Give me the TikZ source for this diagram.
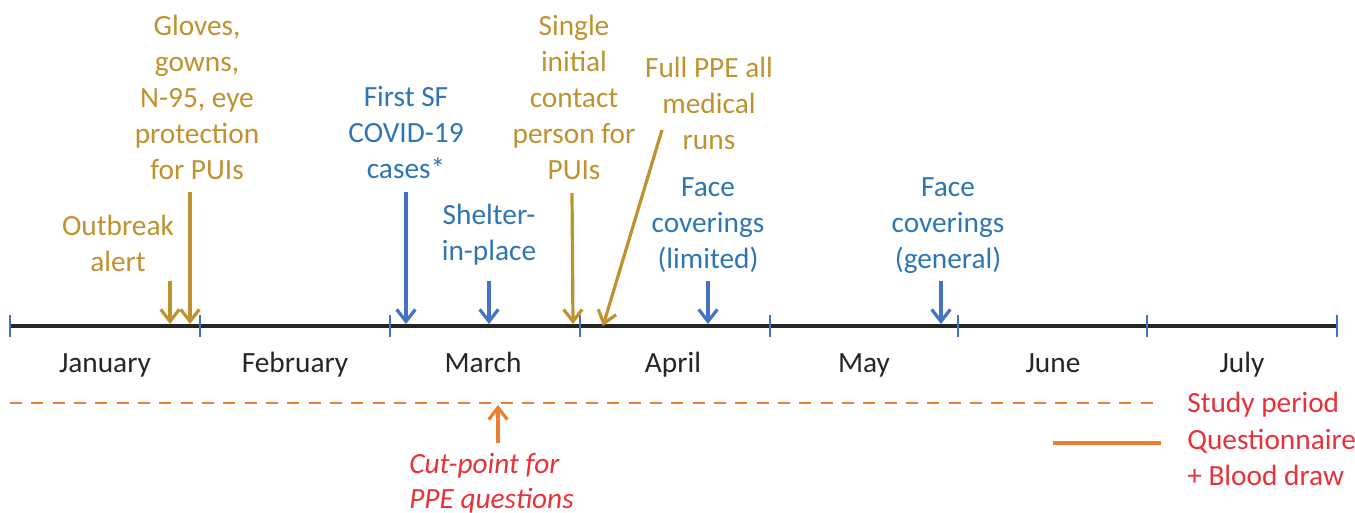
\documentclass[tikz,border=0pt]{standalone}
\usepackage{fontspec}
\setmainfont{Carlito}
\usetikzlibrary{arrows.meta}
\definecolor{gold}{HTML}{BF9230}
\definecolor{bluearr}{HTML}{4472C4}
\definecolor{bluetxt}{HTML}{2E75B6}
\definecolor{orng}{HTML}{ED7D31}
\definecolor{redtxt}{HTML}{E8313A}
\tikzset{
  lbl/.style={align=center, inner sep=0pt, font=\fontsize{22}{27}\selectfont},
  goldtxt/.style={lbl, text=gold},
  bluelbl/.style={lbl, text=bluetxt},
  month/.style={lbl, text=black!85, anchor=base},
  redlbl/.style={lbl, text=redtxt},
  goldarr/.style={draw=gold, line width=2.4pt, -{Straight Barb[length=9pt,width=14pt,line width=2.4pt]}},
  bluearrow/.style={draw=bluearr, line width=2.4pt, -{Straight Barb[length=9pt,width=14pt,line width=2.4pt]}},
  orarr/.style={draw=orng, line width=2.4pt, -{Straight Barb[length=9pt,width=14pt,line width=2.4pt]}},
  tick/.style={draw=bluearr, line width=1.6pt}
}
\begin{document}
\begin{tikzpicture}[x=0.75pt,y=-0.75pt]
\useasboundingbox (0,0) rectangle (1355,513);

% time axis and month ticks
\coordinate (t0) at (10,326);
\coordinate (t7) at (1337,326);
\draw[line width=3pt, black!85] (t0) -- (t7);
\foreach \x in {10,200,390,580,770,958,1147,1337}{
  \draw[tick] (\x,315) -- (\x,337);
}

% months
\node[month] (jan) at (105,372) {January};
\node[month] (feb) at (295,372) {February};
\node[month] (mar) at (483,372) {March};
\node[month] (apr) at (673,372) {April};
\node[month] (may) at (864,372) {May};
\node[month] (jun) at (1053,372) {June};
\node[month] (jul) at (1242,372) {July};

% events (PPE policy)
\node[goldtxt] (gloves) at (197,97) {Gloves,\\gowns,\\N-95, eye\\protection\\for PUIs};
\node[goldtxt] (outbreak) at (118,243) {Outbreak\\alert};
\node[goldtxt] (single) at (574,97) {Single\\initial\\contact\\person for\\PUIs};
\node[goldtxt] (fullppe) at (709,103) {Full PPE all\\medical\\runs};

% events (public health)
\node[bluelbl] (firstsf) at (406,133) {First SF\\COVID-19\\cases*};
\node[bluelbl] (shelter) at (489,235) {Shelter-\\in-place};
\node[bluelbl] (facelim) at (708,225) {Face\\coverings\\(limited)};
\node[bluelbl] (facegen) at (948,226) {Face\\coverings\\(general)};

% event arrows
\coordinate (a1s) at (170,281); \coordinate (a1e) at (170,324);
\coordinate (a2s) at (190,192); \coordinate (a2e) at (190,324);
\coordinate (a3s) at (406,192); \coordinate (a3e) at (406,324);
\coordinate (a4s) at (489,281); \coordinate (a4e) at (489,324);
\coordinate (a5s) at (572,193); \coordinate (a5e) at (573,324);
\coordinate (a6s) at (662,130); \coordinate (a6e) at (603,326);
\coordinate (a7s) at (708,281); \coordinate (a7e) at (708,324);
\coordinate (a8s) at (941,281); \coordinate (a8e) at (941,324);
\draw[goldarr] (a1s) -- (a1e);
\draw[goldarr] (a2s) -- (a2e);
\draw[bluearrow] (a3s) -- (a3e);
\draw[bluearrow] (a4s) -- (a4e);
\draw[goldarr] (a5s) -- (a5e);
\draw[goldarr] (a6s) -- (a6e);
\draw[bluearrow] (a7s) -- (a7e);
\draw[bluearrow] (a8s) -- (a8e);

% study period
\coordinate (sp0) at (10,403);
\coordinate (sp1) at (1161,403);
\draw[orng, line width=1.6pt, dash pattern=on 9pt off 7pt] (sp0) -- (sp1);
\coordinate (cp0) at (498,443);
\coordinate (cp1) at (498,405);
\draw[orarr] (cp0) -- (cp1);
\node[redlbl, font=\fontsize{22}{26}\selectfont\itshape, align=left, anchor=west] (cut) at (409,483) {Cut-point for\\PPE questions};

% legend
\coordinate (lq0) at (1053,443);
\coordinate (lq1) at (1161,443);
\draw[orng, line width=3pt] (lq0) -- (lq1);
\node[redlbl, anchor=base west] (lstudy) at (1187,412) {Study period};
\node[redlbl, anchor=base west] (lquest) at (1187,449) {Questionnaire};
\node[redlbl, anchor=base west] (lblood) at (1187,485) {+ Blood draw};
\end{tikzpicture}
\end{document}
